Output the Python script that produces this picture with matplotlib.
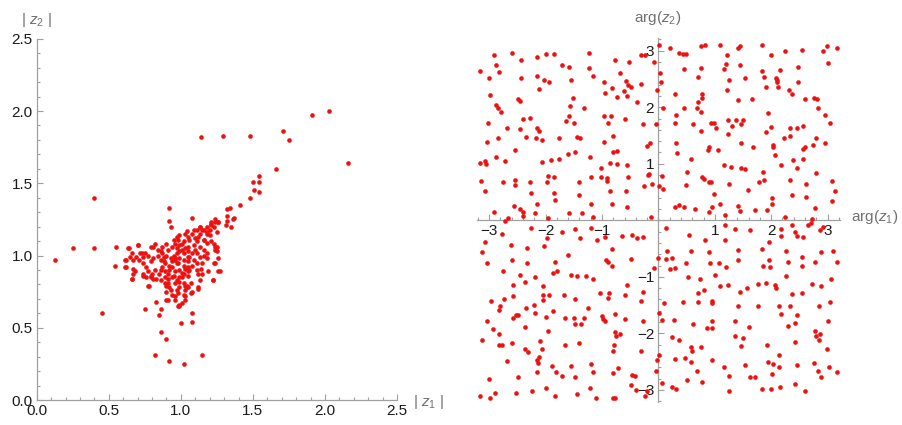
import matplotlib
matplotlib.use('Agg')
import matplotlib.pyplot as plt
from matplotlib.ticker import MultipleLocator, FixedLocator, FormatStrFormatter

plt.rcParams['font.family'] = ['Liberation Sans', 'DejaVu Sans']
plt.rcParams['mathtext.fontset'] = 'custom'
plt.rcParams['mathtext.rm'] = 'Liberation Sans'
plt.rcParams['mathtext.it'] = 'Liberation Sans:italic'

# ---------------- data: (|z1|, |z2|) ----------------
abs_pairs = [
    (0.13, 0.97), (0.25, 1.05), (0.40, 1.40), (0.40, 1.05), (0.45, 0.60), (0.54, 0.93), (0.55, 1.06), (0.63, 1.05),
    (1.14, 1.82), (1.29, 1.83), (1.48, 1.83), (1.71, 1.86), (1.75, 1.80), (1.91, 1.97), (2.03, 2.00), (2.16, 1.64),
    (1.66, 1.60), (1.54, 1.55), (1.54, 1.51), (1.50, 1.51), (1.51, 1.45), (1.54, 1.44), (1.48, 1.40), (1.41, 1.35),
    (1.34, 1.33), (1.32, 1.32), (1.32, 1.27), (1.32, 1.24), (1.31, 1.21), (1.37, 1.26), (1.36, 1.25), (1.35, 1.20),
    (0.92, 1.33), (0.92, 1.24), (0.93, 1.20), (1.08, 1.26),
    (0.82, 0.31), (0.92, 0.27), (1.02, 0.25), (1.15, 0.31), (0.90, 0.42), (0.86, 0.47), (1.00, 0.53), (1.08, 0.54),
    (1.08, 0.60), (0.75, 0.63), (0.83, 0.68), (0.86, 0.63), (0.85, 0.59), (0.90, 0.69), (0.99, 0.66), (0.98, 0.65),
    (1.03, 0.69), (1.07, 0.74), (1.03, 0.79), (1.04, 0.79), (1.12, 0.78), (1.12, 0.87), (1.19, 0.89), (1.22, 0.83),
    (1.26, 0.89), (1.24, 0.95), (1.24, 1.04), (1.25, 1.06), (1.23, 1.08), (1.24, 1.23), (1.26, 1.23), (1.21, 1.23),
    (1.21, 1.21), (1.18, 1.16), (1.16, 1.11), (1.13, 1.20), (1.15, 1.18),
    (1.26, 1.23), (1.24, 1.25), (1.21, 1.22), (1.13, 1.20), (1.18, 1.20), (1.23, 1.20), (1.25, 1.16), (1.18, 1.15),
    (1.20, 1.14), (1.11, 1.18), (1.04, 1.17), (0.99, 1.14), (0.97, 1.13), (1.03, 1.15), (1.08, 1.15), (1.13, 1.15),
    (1.16, 1.11), (1.18, 1.09), (1.21, 1.10), (1.24, 1.06), (1.25, 1.03), (1.26, 0.98), (1.23, 0.95), (1.27, 0.89),
    (1.22, 0.83), (1.15, 0.87), (1.13, 0.83), (1.12, 0.77), (1.07, 0.81), (1.05, 0.78), (1.08, 0.75), (1.02, 0.73),
    (0.99, 0.65), (1.01, 0.67), (0.96, 0.69), (0.96, 0.72), (0.91, 0.69), (0.93, 0.76), (0.92, 0.78), (0.90, 0.79),
    (0.91, 0.81), (0.94, 0.85), (0.97, 0.83), (0.99, 0.85), (1.01, 0.85), (1.02, 0.87), (1.05, 0.86), (1.05, 0.89),
    (1.11, 0.90), (1.14, 0.91), (1.15, 0.95), (1.18, 0.98), (1.18, 1.02), (1.16, 1.04), (1.13, 1.06), (1.11, 1.02),
    (1.09, 0.97), (1.06, 0.99), (1.05, 1.06), (1.01, 1.04), (0.99, 1.07), (0.97, 1.02), (0.96, 0.98), (0.94, 0.96),
    (0.92, 0.93), (0.89, 0.95), (0.88, 0.96), (0.87, 1.02), (0.86, 1.03), (0.84, 1.04), (0.81, 1.06), (0.82, 1.08),
    (0.79, 1.06), (0.75, 1.02), (0.72, 1.02), (0.69, 0.99), (0.67, 0.97), (0.66, 1.02), (0.70, 1.07), (0.64, 1.05),
    (0.62, 0.97), (0.62, 0.92), (0.67, 0.91), (0.68, 0.89), (0.66, 0.84), (0.74, 0.87), (0.76, 0.85), (0.79, 0.85),
    (0.81, 0.84), (0.83, 0.84), (0.86, 0.83), (0.78, 0.79), (0.82, 0.90), (0.74, 0.95), (0.74, 0.99), (0.76, 0.92),
    (0.86, 0.90), (0.89, 0.89), (0.94, 0.92), (0.97, 0.95), (0.99, 0.98), (1.02, 1.02), (1.05, 0.96), (1.08, 1.02),
    (1.09, 1.07), (1.11, 1.10), (1.06, 1.11), (1.02, 1.10), (1.01, 1.08), (0.96, 1.08), (0.94, 1.06), (0.91, 1.04),
    (0.90, 1.00), (0.88, 0.99), (0.87, 0.92), (0.91, 0.87), (0.96, 0.89), (0.99, 0.90), (1.03, 0.91), (1.08, 0.93),
    (1.02, 0.93), (0.98, 0.95), (1.05, 0.92), (0.97, 0.76), (0.99, 0.78), (1.03, 0.76), (1.03, 0.72), (0.90, 0.75),
    (0.91, 0.84), (0.89, 0.81), (1.10, 1.12), (1.16, 1.18), (1.20, 1.18), (1.09, 1.18), (1.05, 1.13), (1.12, 1.13),
    (0.98, 1.11), (0.95, 1.11), (0.90, 1.08), (0.87, 1.06), (0.97, 1.05), (1.03, 1.05), (1.05, 1.03), (0.99, 1.03),
    (0.95, 1.00), (0.93, 0.98), (0.96, 0.97), (1.02, 0.97), (1.05, 0.99), (1.10, 1.04), (1.13, 0.99), (1.16, 1.00),
    (1.11, 0.95), (1.06, 0.90), (1.01, 0.88), (0.95, 0.86), (0.89, 0.85), (0.85, 0.87), (0.80, 0.87), (0.92, 0.90),
    (0.86, 0.97), (0.84, 1.00), (0.81, 0.98), (0.79, 0.96), (0.77, 0.89), (0.96, 0.81), (0.99, 0.82), (1.02, 0.81),
    (0.98, 0.74), (0.94, 0.73), (1.04, 0.78), (0.61, 0.97), (0.61, 0.92), (0.65, 0.99), (0.66, 0.84), (0.67, 0.87),
    (0.71, 0.97), (0.74, 0.86), (0.77, 1.00), (0.79, 0.86), (0.77, 0.79), (0.70, 1.07), (0.73, 1.02),
]
abs_z1 = [p[0] for p in abs_pairs]
abs_z2 = [p[1] for p in abs_pairs]

# ---------------- data: (arg z1, arg z2) ----------------
arg_pairs = [
    # upper half
    (-2.91, 2.92), (-2.59, 2.96), (-2.43, 2.83), (-2.16, 2.89), (-1.99, 2.94), (-1.85, 2.94), (-1.23, 2.96),
    (-0.31, 2.92), (-0.24, 2.92), (0.01, 3.11), (0.21, 3.05), (0.37, 2.96), (0.43, 2.94), (0.49, 2.94), (0.76, 3.08),
    (0.82, 3.10), (1.10, 3.11), (1.44, 3.08), (1.42, 3.05), (1.84, 3.10), (1.99, 2.92), (2.24, 2.99), (2.55, 3.02),
    (2.91, 2.99), (2.99, 3.08), (3.16, 3.05), (1.22, 2.92), (-0.08, 2.80),
    (-3.16, 2.64), (-2.88, 2.75), (-2.82, 2.63), (-3.01, 2.52), (-2.43, 2.52), (-2.16, 2.55), (-2.02, 2.49),
    (-1.93, 2.45), (-1.71, 2.75), (-1.59, 2.72), (-1.54, 2.49), (-1.23, 2.69), (-1.16, 2.55), (-0.76, 2.83),
    (-0.52, 2.80), (-0.68, 2.61), (-0.96, 2.45), (-0.58, 2.46), (-0.53, 2.39), (0.03, 2.61), (0.05, 2.45),
    (0.45, 2.67), (0.71, 2.54), (0.75, 2.69), (1.16, 2.67), (1.19, 2.77), (1.25, 2.49), (1.45, 2.75), (1.54, 2.52),
    (1.83, 2.64), (1.88, 2.54), (2.11, 2.49), (2.15, 2.66), (2.48, 2.72), (2.48, 2.45), (3.01, 2.78), (-0.49, 2.36),
    (-2.99, 2.22), (-2.87, 2.04), (-2.79, 1.92), (-2.85, 1.98), (-2.48, 2.14), (-2.46, 2.11), (-2.12, 2.33),
    (-1.56, 2.02), (-1.51, 2.17), (-1.32, 1.99), (-0.95, 2.25), (-0.83, 2.34), (-0.74, 2.19), (-0.61, 2.28),
    (-0.56, 2.20), (-0.30, 2.42), (-0.37, 2.09), (-0.02, 2.30), (0.09, 1.98), (0.30, 2.24), (0.31, 1.86),
    (0.46, 1.99), (0.70, 2.10), (0.77, 2.24), (0.78, 2.17), (0.76, 1.92), (0.68, 1.98), (1.21, 2.30), (1.41, 2.13),
    (1.66, 2.14), (1.91, 2.36), (2.09, 2.51), (2.11, 2.44), (2.12, 2.35), (2.32, 2.30), (2.36, 2.23), (2.60, 2.14),
    (2.76, 2.16), (2.82, 2.14), (2.83, 1.98), (2.96, 1.86),
    (-3.02, 1.73), (-2.68, 1.64), (-2.46, 1.61), (-2.40, 1.79), (-2.28, 1.81), (-2.16, 1.64), (-2.12, 1.58),
    (-2.34, 1.48), (-2.17, 1.45), (-2.07, 1.42), (-1.64, 1.75), (-1.59, 1.84), (-1.49, 1.73), (-1.45, 1.48),
    (-1.39, 1.45), (-1.77, 1.45), (-0.96, 1.84), (-0.90, 1.73), (-0.84, 1.85), (-0.80, 1.49), (-0.96, 1.39),
    (-0.59, 1.80), (-0.27, 1.70), (-0.21, 1.31), (-0.14, 1.36), (-0.04, 1.70), (0.29, 1.73), (0.32, 1.36),
    (0.61, 1.70), (0.76, 1.58), (0.93, 1.73), (0.98, 1.73), (1.03, 1.64), (1.23, 1.78), (1.23, 1.52), (1.31, 1.67),
    (1.38, 1.78), (1.47, 1.70), (1.50, 1.78), (1.47, 1.36), (1.67, 1.29), (1.91, 1.57), (1.95, 1.89), (1.99, 1.65),
    (2.04, 1.34), (2.04, 1.29), (2.23, 1.45), (2.34, 1.64), (2.34, 1.49), (2.46, 1.64), (2.56, 1.67), (2.60, 1.29),
    (2.74, 1.34), (2.79, 1.46), (2.96, 1.36), (3.04, 1.73), (-3.04, 1.39), (-2.85, 1.45), (-2.54, 1.25),
    (-3.16, 1.01), (-3.07, 1.05), (-3.06, 0.99), (-2.88, 1.12), (-2.72, 1.05), (-2.07, 1.04), (-1.91, 1.06),
    (-1.77, 1.09), (-1.60, 1.17), (-1.48, 1.20), (-1.21, 1.12), (-0.86, 1.02), (-0.80, 1.20), (-0.74, 1.23),
    (-0.73, 0.99), (-0.55, 0.98), (-1.01, 0.92), (-3.15, 0.70), (-3.07, 0.51), (-2.76, 0.67), (-2.54, 0.72),
    (-2.54, 0.62), (-2.28, 0.67), (-2.26, 0.48), (-1.96, 0.79), (-1.97, 0.67), (-1.85, 0.76), (-1.85, 0.48),
    (-1.41, 0.67), (-1.41, 0.45), (-1.20, 0.76), (-1.02, 0.76), (-0.91, 0.74), (-0.91, 0.69), (-0.86, 0.52),
    (-0.58, 0.51), (-0.53, 0.76), (-0.25, 0.61), (-0.19, 0.80), (-0.16, 0.82), (-0.12, 0.64), (0.02, 0.61),
    (0.06, 0.79), (0.08, 0.56), (0.33, 1.19), (0.50, 0.85), (0.49, 0.62), (0.58, 1.08), (0.78, 0.77), (0.80, 0.73),
    (0.90, 0.67), (0.94, 0.67), (0.99, 0.46), (0.89, 1.29), (0.88, 1.24), (1.06, 1.24), (1.16, 0.98), (1.25, 0.64),
    (1.29, 0.95), (1.47, 0.92), (1.54, 0.91), (1.59, 0.54), (1.79, 0.67), (1.85, 0.86), (1.87, 0.72), (2.02, 0.39),
    (2.07, 1.16), (2.17, 0.98), (2.33, 0.72), (2.36, 0.44), (2.39, 1.06), (2.46, 0.92), (2.56, 1.08), (2.57, 1.26),
    (2.61, 0.64), (2.62, 0.41), (2.79, 0.84), (3.07, 0.70), (3.13, 0.51), (3.07, 0.35), (2.77, 0.22),
    (-2.92, 0.14), (-2.67, 0.04), (-2.56, 0.26), (-2.45, 0.20), (-2.40, 0.15), (-2.40, 0.07), (-2.18, 0.13),
    (-2.15, 0.29), (-1.96, 0.04), (-1.84, 0.36), (-1.59, 0.13), (-1.35, 0.13), (-1.19, 0.29), (-1.16, 0.06),
    (-0.82, 0.29), (-0.56, 0.23), (-0.13, 0.06), (0.30, 0.23), (0.37, 0.27), (0.46, 0.23), (0.65, 0.20),
    (0.89, 0.14), (0.95, 0.23), (1.10, 0.29), (1.18, 0.09), (1.41, 0.26), (1.45, 0.16), (1.71, 0.18), (1.93, 0.18),
    (2.02, 0.28), (2.24, 0.06), (2.72, 0.02),
    # lower half, left
    (-2.71, -0.02), (-2.26, -0.13), (-2.77, -0.24), (-3.07, -0.38), (-3.13, -0.56), (-3.04, -0.76), (-2.62, -0.44),
    (-2.60, -0.70), (-2.33, -0.49), (-2.33, -0.76), (-2.02, -0.46), (-1.97, -0.31), (-1.70, -0.21), (-1.47, -0.16),
    (-1.39, -0.32), (-1.19, -0.14), (-1.09, -0.34), (-0.94, -0.30), (-0.65, -0.27), (-0.46, -0.26), (-0.37, -0.32),
    (-0.28, -0.29), (-0.82, -0.51), (-0.93, -0.71), (-0.89, -0.73), (-0.82, -0.80), (-0.49, -0.68), (-1.60, -0.61),
    (-1.84, -0.73), (-1.87, -0.94), (-1.80, -0.89), (-1.54, -0.96), (-1.45, -0.98), (-1.29, -0.99), (-1.16, -1.04),
    (-2.76, -0.90), (-2.46, -0.96), (-2.36, -1.09), (-2.18, -1.01), (-2.57, -1.15), (-2.05, -1.17), (-2.05, -1.32),
    (-2.05, -1.41), (-1.93, -1.32), (-1.67, -1.32), (-1.47, -1.40), (-1.25, -1.56), (-2.21, -1.49), (-2.35, -1.56),
    (-2.57, -1.34), (-2.74, -1.40), (-2.97, -1.43), (-2.81, -1.51), (-2.82, -1.59), (-2.58, -1.73), (-2.52, -1.67),
    (-2.48, -1.67), (-2.36, -1.88), (-2.18, -1.64), (-1.99, -1.71), (-1.96, -1.96), (-1.87, -1.60), (-1.66, -1.73),
    (-1.50, -1.73), (-1.48, -1.84), (-1.38, -1.84), (-1.32, -1.73), (-1.00, -1.70), (-0.98, -1.75), (-0.94, -1.78),
    (-0.76, -1.65), (-0.59, -1.75), (-0.56, -1.15), (-0.28, -1.26), (-0.30, -1.43), (-0.28, -1.79), (-1.04, -1.29),
    (-0.88, -1.28), (-0.89, -1.37), (-0.59, -1.32), (-3.04, -1.79), (-2.94, -1.93), (-2.82, -2.01), (-2.83, -2.20),
    (-2.78, -2.20), (-3.13, -2.11), (-2.59, -2.17), (-2.68, -2.49), (-2.36, -2.28), (-2.31, -2.33), (-2.09, -2.14),
    (-2.07, -2.28), (-2.15, -2.48), (-2.14, -2.52), (-2.11, -2.41), (-1.65, -2.20), (-1.41, -2.17), (-0.76, -1.98),
    (-0.75, -2.04), (-0.78, -2.21), (-0.80, -2.31), (-0.68, -2.02), (-0.80, -2.71), (-0.71, -2.62), (-0.46, -2.73),
    (-0.42, -2.75), (-0.49, -2.91), (-0.39, -3.01), (-0.30, -2.31), (-1.19, -2.54), (-1.16, -2.69), (-1.54, -2.58),
    (-1.71, -2.75), (-1.82, -2.69), (-1.89, -2.58), (-1.47, -2.78), (-2.49, -2.78), (-2.15, -2.69), (-3.01, -2.80),
    (-3.16, -3.11), (-2.99, -3.14), (-2.90, -3.05), (-2.52, -3.05), (-2.24, -3.02), (-1.99, -2.96), (-1.84, -3.11),
    (-1.45, -3.08), (-1.21, -2.96), (-1.10, -3.14), (-0.81, -3.15), (-0.77, -3.14), (-0.24, -3.11), (-0.20, -3.02),
    # lower half, right
    (0.13, -0.13), (0.16, -0.54), (-0.01, -0.67), (-0.07, -0.85), (0.13, -0.68), (0.24, -0.67), (0.30, -0.85),
    (0.21, -0.87), (0.55, -0.26), (0.57, -0.54), (0.49, -0.76), (0.82, -0.35), (0.89, -0.56), (0.91, -0.76),
    (0.53, -1.01), (0.74, -1.04), (0.80, -1.24), (0.71, -1.28), (0.71, -1.45), (0.95, -1.42), (0.95, -1.46),
    (1.01, -0.96), (1.10, -1.17), (1.18, -0.09), (1.18, -0.35), (1.07, -0.76), (1.20, -0.82), (1.35, -0.16),
    (1.41, -0.52), (1.41, -0.70), (1.23, -1.15), (1.45, -1.26), (1.57, -1.20), (1.62, -0.18), (1.76, -1.12),
    (1.90, -1.11), (1.84, -0.51), (1.85, -0.80), (1.96, -0.39), (1.96, -0.71), (1.97, -0.82), (2.06, -1.14),
    (2.09, -1.20), (2.18, -0.16), (2.17, -0.27), (2.27, -0.55), (2.30, -0.73), (2.27, -0.99), (2.37, -0.09),
    (2.43, -0.20), (2.45, -0.28), (2.57, -0.30), (2.66, -0.08), (2.71, -0.05), (2.87, -0.18), (2.91, -0.12),
    (2.88, -0.56), (3.10, -0.55), (3.16, -0.74), (2.55, -0.65), (2.55, -0.80), (2.78, -0.73), (2.72, -1.12),
    (2.88, -1.17), (3.06, -1.04), (3.04, -1.45), (2.55, -1.29), (2.37, -1.30), (2.34, -1.51), (2.14, -1.51),
    (2.17, -1.65), (2.46, -1.68), (2.42, -1.81), (2.30, -1.87), (1.76, -1.51), (1.41, -1.51), (1.35, -1.78),
    (1.61, -1.89), (1.50, -2.08), (1.47, -2.23), (1.35, -2.04), (0.95, -1.78), (0.95, -1.91), (0.87, -1.91),
    (0.61, -1.83), (0.43, -1.45), (0.10, -1.46), (0.06, -1.77), (0.01, -1.64), (0.27, -1.77), (0.37, -2.12),
    (0.47, -2.44), (0.58, -2.51), (0.59, -2.31), (0.58, -2.24), (0.75, -2.25), (0.95, -2.48), (0.30, -2.45),
    (0.24, -2.06), (0.01, -2.39), (-0.03, -2.48), (-0.05, -2.67), (0.06, -2.88), (0.25, -2.95), (0.31, -2.98),
    (0.50, -2.82), (0.68, -2.66), (0.77, -2.86), (1.16, -2.59), (1.25, -2.75), (1.26, -3.02), (1.53, -2.56),
    (1.62, -2.78), (1.71, -2.78), (1.93, -2.20), (1.94, -2.51), (2.03, -2.55), (2.01, -2.72), (2.14, -2.39),
    (2.14, -2.59), (1.99, -2.99), (1.84, -2.99), (2.15, -2.95), (2.43, -2.89), (2.45, -2.56), (2.60, -3.02),
    (2.77, -1.95), (2.80, -2.05), (2.86, -2.02), (2.85, -2.11), (2.99, -2.28), (3.01, -1.79), (2.76, -2.53),
    (2.83, -2.66), (2.88, -2.78), (3.03, -2.59), (3.16, -2.69), (2.43, -2.15), (2.84, -1.51),
]
arg_z1 = [p[0] for p in arg_pairs]
arg_z2 = [p[1] for p in arg_pairs]

abs_ticks = [0.0, 0.5, 1.0, 1.5, 2.0, 2.5]
arg_ticks = [-3, -2, -1, 1, 2, 3]

# ---------------- styling ----------------
AXC = '#a0a0a0'
TXT = '#1a1a1a'
LBL = '#707070'
PT = '#ee1111'
FS = 11

fig = plt.figure(figsize=(9.02, 4.25), dpi=100)

# Left panel
ax1 = fig.add_axes([0.0407, 0.0588, 0.3995, 0.850])
ax1.scatter(abs_z1, abs_z2, s=11, color=PT, linewidths=0, zorder=3, clip_on=False)
ax1.set_xlim(0, 2.5)
ax1.set_ylim(0, 2.5)
for sp in ['top', 'right']:
    ax1.spines[sp].set_visible(False)
for sp in ['left', 'bottom']:
    ax1.spines[sp].set_color(AXC)
    ax1.spines[sp].set_linewidth(0.9)
ax1.xaxis.set_major_locator(FixedLocator(abs_ticks))
ax1.yaxis.set_major_locator(FixedLocator(abs_ticks))
ax1.xaxis.set_minor_locator(MultipleLocator(0.1))
ax1.yaxis.set_minor_locator(MultipleLocator(0.1))
ax1.xaxis.set_major_formatter(FormatStrFormatter('%.1f'))
ax1.yaxis.set_major_formatter(FormatStrFormatter('%.1f'))
ax1.tick_params(which='both', direction='in', color=AXC, labelcolor=TXT, labelsize=FS, width=0.8)
ax1.tick_params(which='major', length=4.5, pad=3)
ax1.tick_params(which='minor', length=2.5)
fig.text(0.458, 0.054, '| $z_1$ |', color=LBL, fontsize=FS, ha='left', va='center')
fig.text(0.040, 0.953, '| $z_2$ |', color=LBL, fontsize=FS, ha='center', va='center')

# Right panel
ax2 = fig.add_axes([0.5285, 0.0534, 0.4028, 0.8565])
ax2.scatter(arg_z1, arg_z2, s=11, color=PT, linewidths=0, zorder=3, clip_on=False)
ax2.set_xlim(-3.22, 3.22)
ax2.set_ylim(-3.22, 3.22)
for sp in ['top', 'right']:
    ax2.spines[sp].set_visible(False)
for sp in ['left', 'bottom']:
    ax2.spines[sp].set_position(('data', 0))
    ax2.spines[sp].set_color(AXC)
    ax2.spines[sp].set_linewidth(0.9)
ax2.xaxis.set_major_locator(FixedLocator(arg_ticks))
ax2.yaxis.set_major_locator(FixedLocator(arg_ticks))
ax2.xaxis.set_minor_locator(MultipleLocator(0.2))
ax2.yaxis.set_minor_locator(MultipleLocator(0.2))
ax2.set_xticklabels(['\u22123', '\u22122', '\u22121', '1', '2', '3'])
ax2.set_yticklabels(['\u22123', '\u22122', '\u22121', '1', '2', '3'])
ax2.tick_params(which='both', direction='in', color=AXC, labelcolor=TXT, labelsize=FS, width=0.8)
ax2.tick_params(which='major', length=4.5, pad=3)
ax2.tick_params(which='minor', length=2.5)
fig.text(0.9435, 0.489, 'arg($z_1$)', color=LBL, fontsize=FS, ha='left', va='center')
fig.text(0.7295, 0.958, 'arg($z_2$)', color=LBL, fontsize=FS, ha='center', va='center')

fig.savefig('out.png', dpi=100)
